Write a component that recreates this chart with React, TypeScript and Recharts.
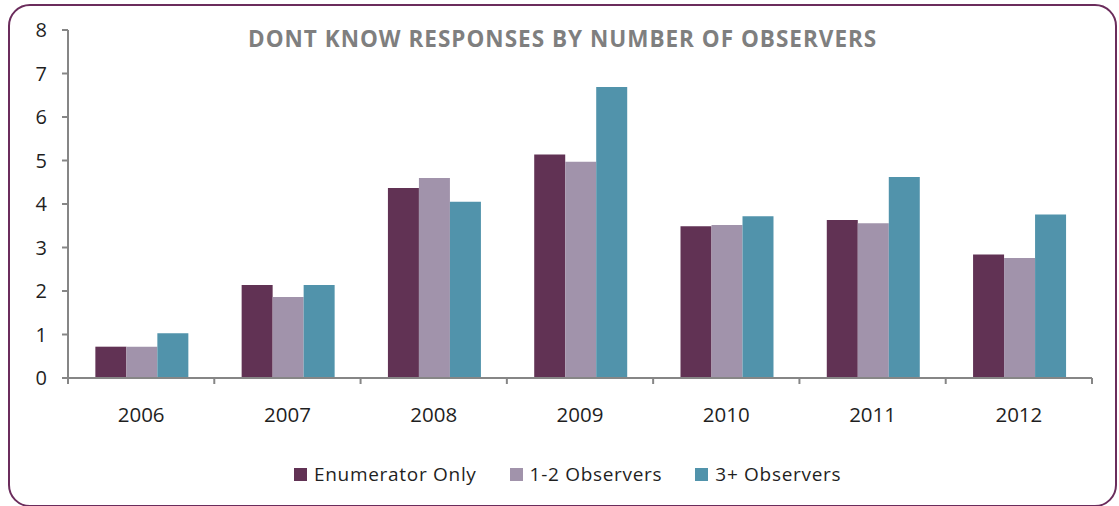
import React from "react";
import { BarChart, Bar, XAxis, YAxis } from "recharts";

const years = ["2006", "2007", "2008", "2009", "2010", "2011", "2012"];
const enumeratorOnly = [0.72, 2.14, 4.37, 5.14, 3.49, 3.63, 2.84];
const observers12 = [0.72, 1.86, 4.6, 4.97, 3.52, 3.56, 2.76];
const observers3plus = [1.03, 2.14, 4.05, 6.69, 3.72, 4.62, 3.76];
const yTicks = [0, 1, 2, 3, 4, 5, 6, 7, 8];

const seriesNames = ["Enumerator Only", "1-2 Observers", "3+ Observers"];
const seriesKeys = ["enumeratorOnly", "observers12", "observers3plus"];
const seriesColors = ["#613254", "#A193AB", "#5193AB"];
const titleText = "DONT KNOW RESPONSES BY NUMBER OF OBSERVERS";

const data = years.map((y, i) => ({
  year: y,
  enumeratorOnly: enumeratorOnly[i],
  observers12: observers12[i],
  observers3plus: observers3plus[i],
}));

const FONT = "'Open Sans', sans-serif";
const AXIS = "#868686";
const TEXT = "#1f1f1f";
const X_MARGIN = 29;

const XTick = (props: any) => {
  const { x, y, payload, index, visibleTicksCount } = props;
  const half = payload && payload.offset ? payload.offset : 0;
  const axisY = y - X_MARGIN;
  const isLast = index === (visibleTicksCount ?? years.length) - 1;
  return (
    <g>
      <line x1={x - half} x2={x - half} y1={axisY} y2={axisY + 6} stroke={AXIS} strokeWidth={2} />
      {isLast && (
        <line x1={x + half} x2={x + half} y1={axisY} y2={axisY + 6} stroke={AXIS} strokeWidth={2} />
      )}
      <text x={x} y={y} dy="0.71em" textAnchor="middle" fill={TEXT} fontSize={20.5} fontFamily={FONT}>
        {payload.value}
      </text>
    </g>
  );
};

export default function App() {
  return (
    <div style={{ position: "absolute", left: 0, top: 0, width: 1119, height: 506, background: "#fff", overflow: "hidden" }}>
      <div
        style={{
          position: "absolute",
          left: 8,
          top: 4,
          width: 1105,
          height: 499,
          border: "2px solid #6B2C5C",
          borderRadius: 22,
        }}
      />
      <div
        style={{
          position: "absolute",
          left: 248,
          top: 23,
          fontFamily: FONT,
          fontWeight: 700,
          fontSize: 22.5,
          letterSpacing: 1.0,
          color: "#7F7F7F",
          whiteSpace: "nowrap",
        }}
      >
        {titleText}
      </div>
      <div style={{ position: "absolute", left: 0, top: 0 }}>
        <BarChart
          width={1119}
          height={506}
          data={data}
          margin={{ top: 30, right: 27, bottom: 78, left: 0 }}
          barCategoryGap="18.7%"
          barGap={0}
        >
          <XAxis
            dataKey="year"
            height={50}
            axisLine={{ stroke: AXIS, strokeWidth: 2 }}
            tickLine={false}
            tickSize={0}
            tickMargin={X_MARGIN}
            tick={<XTick />}
            interval={0}
          />
          <YAxis
            width={68}
            domain={[0, 8]}
            ticks={yTicks}
            interval={0}
            axisLine={{ stroke: AXIS, strokeWidth: 2 }}
            tickLine={{ stroke: AXIS, strokeWidth: 2 }}
            tickSize={6}
            tickMargin={15}
            tick={{ fill: TEXT, fontSize: 20, fontFamily: FONT }}
          />
          {seriesKeys.map((k, i) => (
            <Bar key={k} dataKey={k} name={seriesNames[i]} fill={seriesColors[i]} isAnimationActive={false} />
          ))}
        </BarChart>
      </div>
      <div
        style={{
          position: "absolute",
          left: 294,
          top: 461,
          display: "flex",
          alignItems: "center",
          fontFamily: FONT,
          fontSize: 19,
          letterSpacing: 0.7,
          color: TEXT,
        }}
      >
        {seriesNames.map((n, i) => (
          <div key={n} style={{ display: "flex", alignItems: "center", marginRight: i < seriesNames.length - 1 ? 33 : 0 }}>
            <span style={{ display: "inline-block", width: 13, height: 13, background: seriesColors[i], marginRight: 7 }} />
            <span>{n}</span>
          </div>
        ))}
      </div>
    </div>
  );
}
